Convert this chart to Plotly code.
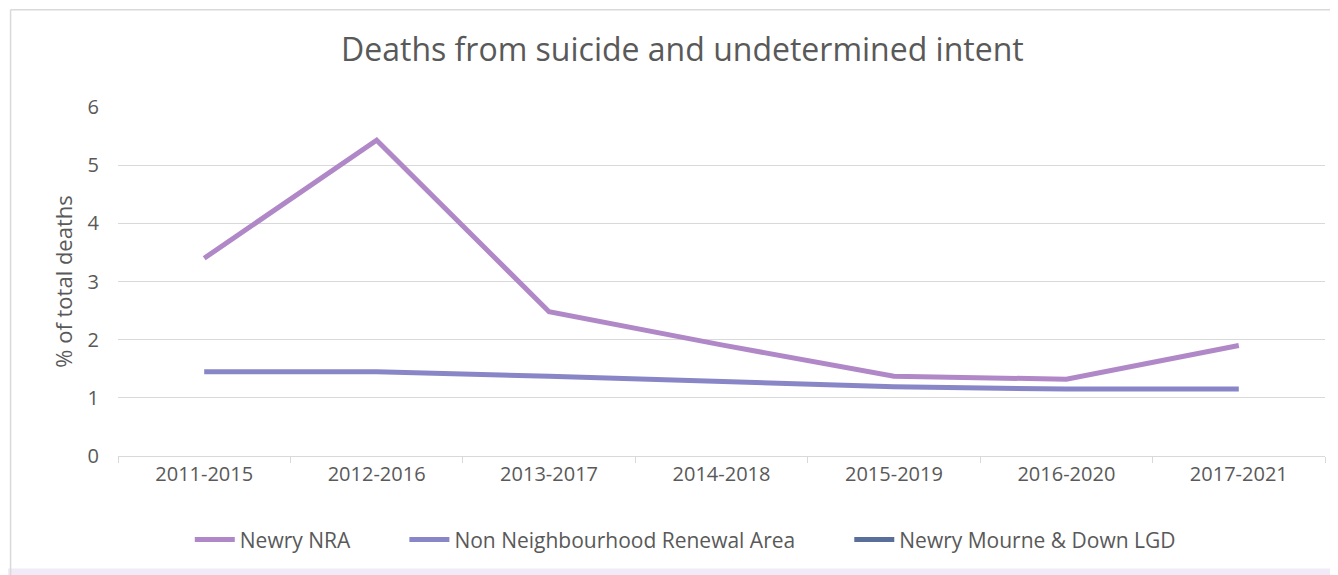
import plotly.graph_objects as go

periods = ["2011-2015", "2012-2016", "2013-2017", "2014-2018", "2015-2019", "2016-2020", "2017-2021"]
newry_nra = [3.40, 5.43, 2.48, 1.91, 1.37, 1.32, 1.90]
non_nra = [1.45, 1.45, 1.37, 1.28, 1.19, 1.15, 1.15]
lgd = [None, None, None, None, None, None, None]
series_names = ["Newry NRA", "Non Neighbourhood Renewal Area", "Newry Mourne & Down LGD"]

FONT = "Open Sans"
GREY = "#595959"
PAD = "\u00a0" * 9

fig = go.Figure()
fig.add_trace(go.Scatter(x=periods, y=newry_nra, name=series_names[0] + PAD, mode="lines",
                         line=dict(color="#B088C8", width=5)))
fig.add_trace(go.Scatter(x=periods, y=non_nra, name=series_names[1] + PAD, mode="lines",
                         line=dict(color="#8886C6", width=5)))
fig.add_trace(go.Scatter(x=periods, y=lgd, name=series_names[2], mode="lines",
                         line=dict(color="#5A6E9A", width=5)))

fig.update_layout(
    width=1338, height=575,
    margin=dict(l=110, r=21, t=99, b=127),
    paper_bgcolor="white", plot_bgcolor="white",
    font=dict(family=FONT, color=GREY, size=20),
    title=dict(text="Deaths from suicide and undetermined intent", x=0.504, xanchor="center",
               y=0.927, yanchor="middle", font=dict(size=32, color=GREY, family=FONT)),
    showlegend=True,
    legend=dict(orientation="h", x=0.47, xanchor="center", y=-0.24, yanchor="middle",
                font=dict(size=21, color=GREY, family=FONT), itemwidth=40,
                traceorder="normal", tracegroupgap=0),
    xaxis=dict(type="category", showgrid=False, showline=True, linecolor="#D9D9D9", linewidth=1,
               ticks="outside", tickson="boundaries", ticklen=6, tickcolor="#D9D9D9",
               tickfont=dict(size=20, color=GREY), range=[-0.5, 6.5]),
    yaxis=dict(range=[0, 6], dtick=1, showgrid=True, gridcolor="#D9D9D9", gridwidth=1,
               zeroline=False, showline=False, ticks="", tickfont=dict(size=20, color=GREY),
               ticklabelstandoff=18,
               title=dict(text="% of total deaths", font=dict(size=22, color=GREY), standoff=8)),
)

# chart-area border (left and top edges) and bottom lavender strip
fig.add_shape(type="line", xref="paper", yref="paper", x0=-0.089, x1=-0.089, y0=-0.36, y1=1.279,
              line=dict(color="#D9D9D9", width=1.5))
fig.add_shape(type="line", xref="paper", yref="paper", x0=-0.089, x1=1.02, y0=1.279, y1=1.279,
              line=dict(color="#D9D9D9", width=1.5))
fig.add_shape(type="rect", xref="paper", yref="paper", x0=-0.1, x1=1.02, y0=-0.36, y1=-0.322,
              fillcolor="#F1EAF7", line=dict(width=0), layer="below")

fig.write_html("out.html")
